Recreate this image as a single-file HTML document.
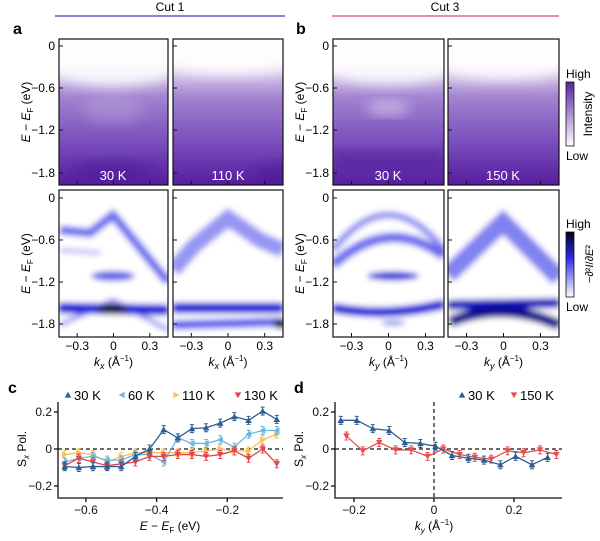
<!DOCTYPE html>
<html><head><meta charset="utf-8">
<style>
body{margin:0;background:#fff;}
svg{display:block;font-family:"Liberation Sans",Arial,sans-serif;}
</style></head>
<body>
<svg width="600" height="541" viewBox="0 0 600 541">
<defs>
  <linearGradient id="purp" x1="0" y1="0" x2="0" y2="1">
    <stop offset="0" stop-color="#ffffff"/>
    <stop offset="0.15" stop-color="#f3eef9"/>
    <stop offset="0.4" stop-color="#a283d0"/>
    <stop offset="0.7" stop-color="#7a4fbc"/>
    <stop offset="1" stop-color="#561d9f"/>
  </linearGradient>
  <linearGradient id="cbp" x1="0" y1="1" x2="0" y2="0">
    <stop offset="0" stop-color="#fff"/><stop offset="1" stop-color="#5b22a3"/>
  </linearGradient>
  <linearGradient id="cbb" x1="0" y1="1" x2="0" y2="0">
    <stop offset="0" stop-color="#fff"/><stop offset="0.6" stop-color="#2a2af0"/><stop offset="1" stop-color="#000020"/>
  </linearGradient>
  <filter id="bl" x="-20%" y="-20%" width="140%" height="140%"><feGaussianBlur stdDeviation="6"/></filter>
  <filter id="bl2" x="-20%" y="-50%" width="140%" height="200%"><feGaussianBlur stdDeviation="3"/></filter>
  <clipPath id="c1"><rect x="59" y="39" width="109" height="146"/></clipPath>
  <clipPath id="c2"><rect x="173" y="39" width="110" height="146"/></clipPath>
  <clipPath id="c3"><rect x="333" y="39" width="111" height="146"/></clipPath>
  <clipPath id="c4"><rect x="448" y="39" width="111" height="146"/></clipPath>
  <clipPath id="c5"><rect x="59" y="190" width="109" height="147"/></clipPath>
  <clipPath id="c6"><rect x="173" y="190" width="110" height="147"/></clipPath>
  <clipPath id="c7"><rect x="333" y="190" width="111" height="147"/></clipPath>
  <clipPath id="c8"><rect x="448" y="190" width="111" height="147"/></clipPath>
</defs>

<text x="170" y="11" font-size="12" text-anchor="middle">Cut 1</text>
<line x1="55" y1="16" x2="285" y2="16" stroke="#3a3ab8" stroke-width="1.2"/>
<text x="445" y="11" font-size="12" text-anchor="middle">Cut 3</text>
<line x1="332" y1="16" x2="559" y2="16" stroke="#e0408a" stroke-width="1.2"/>
<text x="13" y="34" font-size="16" font-weight="bold">a</text>
<text x="296" y="34" font-size="16" font-weight="bold">b</text>
<text x="8" y="393" font-size="16" font-weight="bold">c</text>
<text x="294" y="393" font-size="16" font-weight="bold">d</text>

<g clip-path="url(#c1)">
  <rect x="59" y="39" width="109" height="146" fill="url(#purp)"/>
  <ellipse cx="113" cy="58" rx="75" ry="28" fill="#fff" opacity="0.85" filter="url(#bl)"/>
  <ellipse cx="113" cy="110" rx="30" ry="14" fill="#fff" opacity="0.15" filter="url(#bl)"/>
  <ellipse cx="113" cy="170" rx="40" ry="10" fill="#4a1595" opacity="0.5" filter="url(#bl)"/>
</g>
<g clip-path="url(#c2)">
  <rect x="173" y="39" width="110" height="146" fill="url(#purp)"/>
  <ellipse cx="228" cy="55" rx="80" ry="20" fill="#fff" opacity="0.85" filter="url(#bl)"/>
  <ellipse cx="283" cy="175" rx="30" ry="12" fill="#4a1595" opacity="0.5" filter="url(#bl)"/>
</g>
<g clip-path="url(#c3)">
  <rect x="333" y="39" width="111" height="146" fill="url(#purp)"/>
  <ellipse cx="388" cy="58" rx="80" ry="26" fill="#fff" opacity="0.85" filter="url(#bl)"/>
  <ellipse cx="388" cy="108" rx="22" ry="8" fill="#fff" opacity="0.4" filter="url(#bl)"/>
  <rect x="333" y="150" width="111" height="20" fill="#4a1595" opacity="0.4" filter="url(#bl)"/>
</g>
<g clip-path="url(#c4)">
  <rect x="448" y="39" width="111" height="146" fill="url(#purp)"/>
  <ellipse cx="503" cy="56" rx="80" ry="24" fill="#fff" opacity="0.85" filter="url(#bl)"/>
</g>
<text x="113" y="180" font-size="13" fill="#fff" text-anchor="middle">30 K</text>
<text x="228" y="180" font-size="13" fill="#fff" text-anchor="middle">110 K</text>
<text x="388" y="180" font-size="13" fill="#fff" text-anchor="middle">30 K</text>
<text x="503" y="180" font-size="13" fill="#fff" text-anchor="middle">150 K</text>

<g clip-path="url(#c5)" fill="none" stroke="#2d2de8" filter="url(#bl2)">
  <rect x="59" y="190" width="109" height="147" fill="#fff" stroke="none"/>
  <path d="M60 230 L90 233 L113 215 L168 282" stroke-width="9" opacity="0.7"/>
  <path d="M60 250 L100 253" stroke-width="5" opacity="0.3"/>
  <ellipse cx="113" cy="276" rx="22" ry="5" fill="#3535e0" stroke="none" opacity="0.8"/>
  <path d="M59 308 L168 310" stroke-width="11" stroke="#1818d8"/>
  <ellipse cx="113" cy="309" rx="16" ry="5" fill="#000030" stroke="none"/>
  <path d="M60 325 L113 300 L168 330" stroke-width="5" opacity="0.45"/>
</g>
<g clip-path="url(#c6)" fill="none" stroke="#2d2de8" filter="url(#bl2)">
  <rect x="173" y="190" width="110" height="147" fill="#fff" stroke="none"/>
  <path d="M173 270 L195 245 L228 218 L260 240 L283 250" stroke-width="16" opacity="0.5"/>
  <path d="M173 308 L283 308" stroke-width="11" stroke="#1818d8"/>
  <path d="M173 325 L283 322" stroke-width="9" opacity="0.8"/>
  <ellipse cx="280" cy="324" rx="6" ry="5" fill="#000040" stroke="none"/>
</g>
<g clip-path="url(#c7)" fill="none" stroke="#2d2de8" filter="url(#bl2)">
  <rect x="333" y="190" width="111" height="147" fill="#fff" stroke="none"/>
  <path d="M333 250 Q388 180 444 250" stroke-width="7" opacity="0.55"/>
  <path d="M333 265 Q388 215 444 256" stroke-width="10" opacity="0.7"/>
  <ellipse cx="393" cy="276" rx="26" ry="4.5" fill="#2020d8" stroke="none"/>
  <path d="M333 308 Q388 318 444 304" stroke-width="10" stroke="#1818d8"/>
  <ellipse cx="393" cy="323" rx="12" ry="2.5" fill="#3535e0" stroke="none" opacity="0.6"/>
</g>
<g clip-path="url(#c8)" fill="none" stroke="#2d2de8" filter="url(#bl2)">
  <rect x="448" y="190" width="111" height="147" fill="#fff" stroke="none"/>
  <path d="M448 275 L503 222 L559 278" stroke-width="18" opacity="0.6"/>
  <path d="M448 305 L559 303" stroke-width="10" stroke="#1010c0"/>
  <path d="M450 322 Q503 300 559 325" stroke-width="11" stroke="#080890"/>
</g>

<g fill="none" stroke="#111" stroke-width="1.2">
  <rect x="59" y="39" width="109" height="146"/><rect x="173" y="39" width="110" height="146"/>
  <rect x="333" y="39" width="111" height="146"/><rect x="448" y="39" width="111" height="146"/>
  <rect x="59" y="190" width="109" height="147"/><rect x="173" y="190" width="110" height="147"/>
  <rect x="333" y="190" width="111" height="147"/><rect x="448" y="190" width="111" height="147"/>
</g>
<g id="mapticks" stroke="#111" stroke-width="1"></g>
<g id="maptext" font-size="12"></g>

<rect x="566" y="82" width="8" height="64" fill="url(#cbp)" stroke="#111" stroke-width="0.8"/>
<text x="566" y="78" font-size="12">High</text>
<text x="566" y="160" font-size="12">Low</text>
<text transform="translate(592,114) rotate(-90)" font-size="12" text-anchor="middle">Intensity</text>
<rect x="566" y="232" width="8" height="65" fill="url(#cbb)" stroke="#111" stroke-width="0.8"/>
<text x="566" y="228" font-size="12">High</text>
<text x="566" y="311" font-size="12">Low</text>
<text transform="translate(593,264) rotate(-90)" font-size="11" text-anchor="middle">−∂²<tspan font-style="italic">I</tspan>/∂<tspan font-style="italic">E</tspan>²</text>

<g id="chartc"></g>
<g id="chartd"></g>
</svg>
<script>
const NS='http://www.w3.org/2000/svg';
function mk(tag,attrs,parent){const e=document.createElementNS(NS,tag);for(const k in attrs)e.setAttribute(k,attrs[k]);parent.appendChild(e);return e;}
const mapTickE=['0','−0.6','−1.2','−1.8'];
const mapTickK=['−0.3','0','0.3'];
const mt=document.getElementById('mapticks'), mx=document.getElementById('maptext');
const tops=[[46,88,130,173],[198,240,282,324]];
const panelsX=[[59,168],[173,283],[333,444],[448,559]];
[[39,185],[190,337]].forEach((yr,ri)=>{
  panelsX.forEach((px,pi)=>{
    tops[ri].forEach((ty,i)=>{
      const l=mk('line',{x1:px[0],x2:px[0]+4,y1:ty,y2:ty},mt);
      
      
      if(pi===0||pi===2){const t=mk('text',{x:px[0]-4,y:ty+4,'text-anchor':'end'},mx);t.textContent=mapTickE[i];
        
        }
    });
    const w=px[1]-px[0];
    [-0.3,0,0.3].forEach((k,i)=>{
      const x=px[0]+w/2+k*w/0.9;
      const l=mk('line',{x1:x,x2:x,y1:yr[1],y2:yr[1]-4},mt);
      
      
      if(ri===1){const t=mk('text',{x:x,y:350,'text-anchor':'middle'},mx);t.textContent=mapTickK[i];
        
        }
    });
    if(ri===1){const t=mk('text',{x:px[0]+w/2,y:366,'text-anchor':'middle'},mx);
      t.innerHTML=(pi<2?'<tspan font-style="italic">k</tspan><tspan font-style="italic" font-size="9" dy="3">x</tspan>':'<tspan font-style="italic">k</tspan><tspan font-style="italic" font-size="9" dy="3">y</tspan>')+'<tspan dy="-3"> (Å</tspan><tspan font-size="8" dy="-5">−1</tspan><tspan dy="5">)</tspan>';
      
      }
  });
  [30,304].forEach(x=>{
    const cy=(yr[0]+yr[1])/2;
    const t=mk('text',{transform:`translate(${x},${cy}) rotate(-90)`,'text-anchor':'middle'},mx);
    t.innerHTML='<tspan font-style="italic">E</tspan> − <tspan font-style="italic">E</tspan><tspan font-size="8" dy="3">F</tspan><tspan dy="-3"> (eV)</tspan>';
    
    
  });
});

const energies=[-0.66,-0.62,-0.58,-0.54,-0.50,-0.46,-0.42,-0.38,-0.34,-0.30,-0.26,-0.22,-0.18,-0.14,-0.10,-0.06];
const s30=[-0.095,-0.10,-0.095,-0.095,-0.095,-0.04,0.0,0.105,0.06,0.11,0.115,0.14,0.175,0.155,0.205,0.16];
const s60=[-0.07,-0.05,-0.04,-0.06,-0.06,-0.03,-0.03,-0.07,0.06,0.03,0.03,0.05,0.01,0.08,0.10,0.10];
const s110=[-0.03,-0.02,-0.03,-0.07,-0.04,-0.02,-0.02,-0.02,-0.02,-0.02,-0.01,0.0,-0.01,-0.01,0.05,0.08];
const s130=[-0.09,-0.05,-0.07,-0.09,-0.08,-0.07,-0.04,-0.04,-0.03,-0.03,-0.04,-0.03,-0.01,-0.05,0.0,-0.08];
const cTicksX=[-0.6,-0.4,-0.2];
const cTickLabelsX=['−0.6','−0.4','−0.2'];
const yTicks=[0.2,0,-0.2];
const yTickLabels=['0.2','0','−0.2'];
const k30=[-0.233,-0.193,-0.153,-0.112,-0.073,-0.034,0.004,0.045,0.086,0.125,0.166,0.204,0.245,0.284];
const d30=[0.155,0.155,0.11,0.10,0.035,0.03,0.015,-0.035,-0.05,-0.06,-0.085,-0.04,-0.085,-0.045];
const k150=[-0.219,-0.178,-0.137,-0.096,-0.057,-0.016,0.023,0.064,0.102,0.143,0.184,0.224,0.265,0.306];
const d150=[0.07,-0.01,0.035,-0.005,-0.005,-0.04,0.0,-0.03,-0.045,-0.055,-0.01,-0.02,-0.005,-0.03];
const dTicksX=[-0.2,0,0.2];
const dTickLabelsX=['−0.2','0','0.2'];

const yS=v=>449-v*185;
const xC=e=>298+e*353.5;
const xD=k=>434+k*400;
const COL={t30:'#2f5f93',t60:'#6fb6dc',t110:'#f6c25c',t130:'#e0474c',t150:'#e65050'};

function marker(g,x,y,type,col){
  const s=3.3;let p;
  if(type==='up')p=`${x},${y-s} ${x-s},${y+s*0.8} ${x+s},${y+s*0.8}`;
  if(type==='down')p=`${x},${y+s} ${x-s},${y-s*0.8} ${x+s},${y-s*0.8}`;
  if(type==='left')p=`${x-s},${y} ${x+s*0.8},${y-s} ${x+s*0.8},${y+s}`;
  if(type==='right')p=`${x+s},${y} ${x-s*0.8},${y-s} ${x-s*0.8},${y+s}`;
  const m=mk('polygon',{points:p,fill:col},g);
  
  
}
function series(g,xs,ys,xf,col,type,name){
  const sg=mk('g',{},g);
  
  
  mk('polyline',{points:xs.map((x,i)=>xf(x)+','+yS(ys[i])).join(' '),fill:'none',stroke:col,'stroke-width':1.3},sg);
  xs.forEach((x,i)=>{
    const X=xf(x),Y=yS(ys[i]);
    mk('path',{d:`M${X} ${Y-4}V${Y+4}M${X-2} ${Y-4}H${X+2}M${X-2} ${Y+4}H${X+2}`,stroke:col,'stroke-width':1},sg);
    marker(sg,X,Y,type,col);
  });
}
function axes(g,x0,x1,ticksX,labelsX,xf,name){
  const a=mk('g',{stroke:'#111','stroke-width':1.3,fill:'none'},g);
  
  
  mk('path',{d:`M${x0} 402V498H${x1}`},a);
  yTicks.forEach((v,i)=>{
    mk('line',{x1:x0-4,x2:x0,y1:yS(v),y2:yS(v)},a);
    const t=mk('text',{x:x0-6,y:yS(v)+4,'text-anchor':'end','font-size':12,fill:'#111',stroke:'none'},g);t.textContent=yTickLabels[i];
    
    
  });
  ticksX.forEach((v,i)=>{
    mk('line',{x1:xf(v),x2:xf(v),y1:498,y2:502},a);
    const t=mk('text',{x:xf(v),y:514,'text-anchor':'middle','font-size':12,fill:'#111',stroke:'none'},g);t.textContent=labelsX[i];
    
    
  });
  const z=mk('line',{x1:x0,x2:x1,y1:yS(0),y2:yS(0),stroke:'#111','stroke-dasharray':'4,3','stroke-width':1.2},g);
  
  
  const yt=mk('text',{transform:`translate(${x0-32},449) rotate(-90)`,'text-anchor':'middle','font-size':12},g);
  yt.innerHTML='S<tspan font-size="8" font-style="italic" dy="3">x</tspan><tspan dy="-3"> Pol.</tspan>';
  
  
}
function legend(g,items){
  items.forEach(it=>{
    const lg=mk('g',{},g);
    
    
    marker(lg,it.x,395,it.type,it.col);
    const t=mk('text',{x:it.x+6,y:400,'font-size':13},lg);t.textContent=it.label;
  });
}
const gc=document.getElementById('chartc');

axes(gc,58,283,cTicksX,cTickLabelsX,xC,'chart-c');
series(gc,energies,s110,xC,COL.t110,'right','series-110k');
series(gc,energies,s60,xC,COL.t60,'left','series-60k');
series(gc,energies,s130,xC,COL.t130,'down','series-130k');
series(gc,energies,s30,xC,COL.t30,'up','series-30k');
legend(gc,[{x:68,type:'up',col:COL.t30,label:'30 K'},{x:122,type:'left',col:COL.t60,label:'60 K'},{x:176,type:'right',col:COL.t110,label:'110 K'},{x:238,type:'down',col:COL.t130,label:'130 K'}]);
const xt=mk('text',{x:170,y:530,'text-anchor':'middle','font-size':12},gc);
xt.innerHTML='<tspan font-style="italic">E</tspan> − <tspan font-style="italic">E</tspan><tspan font-size="8" dy="3">F</tspan><tspan dy="-3"> (eV)</tspan>';



const gd=document.getElementById('chartd');

axes(gd,335,562,dTicksX,dTickLabelsX,xD,'chart-d');
const vl=mk('line',{x1:xD(0),x2:xD(0),y1:402,y2:498,stroke:'#111','stroke-dasharray':'4,3','stroke-width':1.2},gd);


series(gd,k150,d150,xD,COL.t150,'down','series-150k');
series(gd,k30,d30,xD,COL.t30,'up','series-30k-d');
legend(gd,[{x:462,type:'up',col:COL.t30,label:'30 K'},{x:514,type:'down',col:COL.t150,label:'150 K'}]);
const xt2=mk('text',{x:434,y:530,'text-anchor':'middle','font-size':12},gd);
xt2.innerHTML='<tspan font-style="italic">k</tspan><tspan font-style="italic" font-size="8" dy="3">y</tspan><tspan dy="-3"> (Å</tspan><tspan font-size="8" dy="-5">−1</tspan><tspan dy="5">)</tspan>';


</script>
</body></html>
